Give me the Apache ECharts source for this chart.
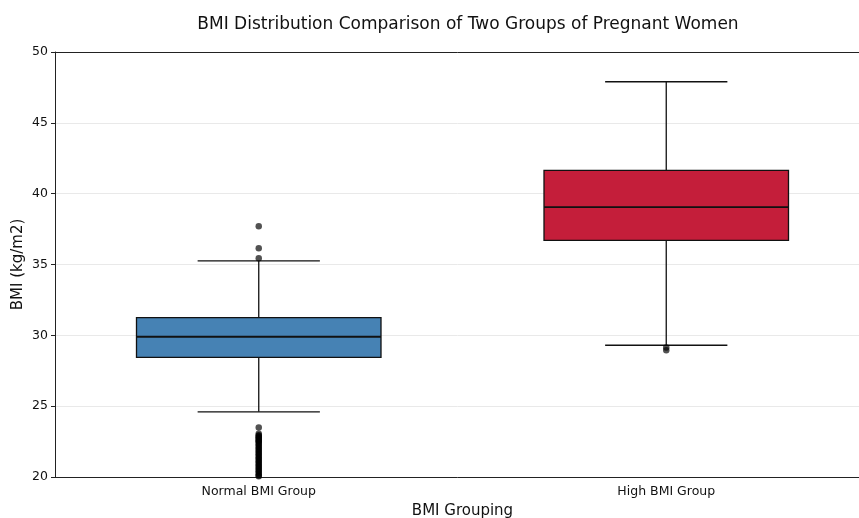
<!DOCTYPE html>
<html>
<head>
<meta charset="utf-8">
<script src="https://cdn.jsdelivr.net/npm/echarts@6/dist/echarts.min.js"></script>
<style>
  html, body { margin: 0; padding: 0; background: #fff; }
  #chart { width: 859px; height: 518px; }
</style>
</head>
<body>
<div id="chart"></div>
<script>
// Group labels and five-number summaries (BMI, kg/m2)
const categories = ['Normal BMI Group', 'High BMI Group'];
const whiskerLow = [24.6, 29.3];
const q1 = [28.45, 36.7];
const median = [29.9, 39.05];
const q3 = [31.25, 41.65];
const whiskerHigh = [35.25, 47.9];
const boxColors = ['#4682B4', '#C41E3A'];

// Outlying observations per group
const normalOutliers = [37.7, 36.15, 35.45, 23.5, 23.05, 22.95, 22.9, 22.8, 22.75, 22.7, 22.6,
  22.55, 22.5, 22.4, 22.3, 22.2, 22.1, 22.0, 21.9, 21.8, 21.7, 21.6, 21.5, 21.4, 21.3, 21.2,
  21.1, 21.0, 20.9, 20.8, 20.7, 20.6, 20.5, 20.4, 20.3, 20.2, 20.1, 20.05];
const highOutliers = [29.15, 28.95];

// Y axis ticks
const yMin = 20, yMax = 50, yStep = 5;

const boxData = categories.map((c, i) =>
  [i, whiskerLow[i], q1[i], median[i], q3[i], whiskerHigh[i]]);
const outlierData = []
  .concat(normalOutliers.map(v => [0, v]))
  .concat(highOutliers.map(v => [1, v]));

const FONT = 'DejaVu Sans';
const chart = echarts.init(document.getElementById('chart'), null, { renderer: 'canvas' });

function renderBox(params, api) {
  const i = api.value(0);
  const band = api.size([1, 0])[0];
  const halfBox = band * 0.3;
  const halfCap = band * 0.15;
  const pLow = api.coord([i, api.value(1)]);
  const pQ1 = api.coord([i, api.value(2)]);
  const pMed = api.coord([i, api.value(3)]);
  const pQ3 = api.coord([i, api.value(4)]);
  const pHigh = api.coord([i, api.value(5)]);
  const cx = pMed[0];
  const line = { stroke: '#111', lineWidth: 1.3 };
  return {
    type: 'group',
    children: [
      { type: 'line', shape: { x1: cx, y1: pQ1[1], x2: cx, y2: pLow[1] }, style: line },
      { type: 'line', shape: { x1: cx, y1: pQ3[1], x2: cx, y2: pHigh[1] }, style: line },
      { type: 'line', shape: { x1: cx - halfCap, y1: pLow[1], x2: cx + halfCap, y2: pLow[1] }, style: line },
      { type: 'line', shape: { x1: cx - halfCap, y1: pHigh[1], x2: cx + halfCap, y2: pHigh[1] }, style: line },
      { type: 'rect', shape: { x: cx - halfBox, y: pQ3[1], width: halfBox * 2, height: pQ1[1] - pQ3[1] },
        style: { fill: boxColors[i], stroke: '#111', lineWidth: 1.3 } },
      { type: 'line', shape: { x1: cx - halfBox, y1: pMed[1], x2: cx + halfBox, y2: pMed[1] },
        style: { stroke: '#111', lineWidth: 1.8 } }
    ]
  };
}

chart.setOption({
  animation: false,
  backgroundColor: '#fff',
  title: {
    text: 'BMI Distribution Comparison of Two Groups of Pregnant Women',
    left: 463, top: 11, textAlign: 'center',
    textStyle: { fontFamily: FONT, fontSize: 17, fontWeight: 'normal', color: '#111' }
  },
  grid: { left: 55, right: -11, top: 52, bottom: 41, outerBoundsMode: 'none', containLabel: false },
  xAxis: [{
    type: 'category',
    data: categories,
    name: 'BMI Grouping',
    nameLocation: 'middle',
    nameGap: 27,
    nameTextStyle: { fontFamily: FONT, fontSize: 15, color: '#111' },
    axisLine: { lineStyle: { color: '#222', width: 1 } },
    axisTick: { alignWithLabel: true, length: 4, lineStyle: { color: '#222' } },
    axisLabel: { fontFamily: FONT, fontSize: 12.5, color: '#111', margin: 8 },
    splitLine: { show: false }
  }, {
    type: 'category',
    data: categories,
    position: 'top',
    axisLine: { lineStyle: { color: '#222', width: 1 } },
    axisTick: { show: false },
    axisLabel: { show: false }
  }],
  yAxis: {
    type: 'value',
    min: yMin, max: yMax, interval: yStep,
    name: 'BMI (kg/m2)',
    nameLocation: 'middle',
    nameGap: 29,
    nameMoveOverlap: false,
    nameTextStyle: { fontFamily: FONT, fontSize: 15, color: '#111' },
    axisLine: { show: true, lineStyle: { color: '#222', width: 1 } },
    axisTick: { show: true, length: 4, lineStyle: { color: '#222' } },
    axisLabel: { fontFamily: FONT, fontSize: 12.5, color: '#111', margin: 7 },
    splitLine: { show: true, lineStyle: { color: '#e9e9e9', width: 1 } }
  },
  series: [{
    type: 'custom',
    renderItem: renderBox,
    encode: { x: 0, y: [1, 2, 3, 4, 5] },
    data: boxData,
    z: 2
  }, {
    type: 'scatter',
    data: outlierData,
    symbol: 'circle',
    symbolSize: 6.5,
    itemStyle: { color: '#000', opacity: 0.68 },
    z: 3
  }]
});
</script>
</body>
</html>
